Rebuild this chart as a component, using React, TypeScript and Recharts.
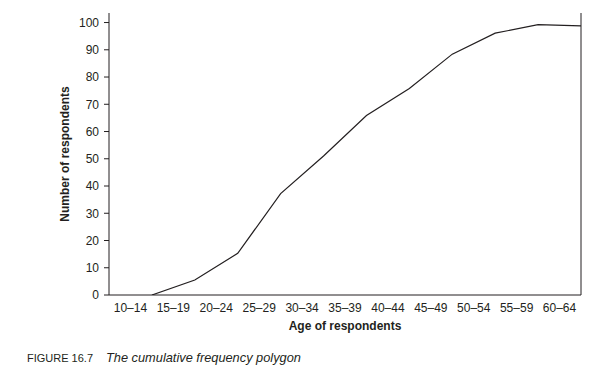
import { LineChart, Line, XAxis, YAxis, ReferenceLine, Label } from 'recharts'

// age groups (classes) and cumulative number of respondents at each upper class boundary
const ageGroups = ['10–14', '15–19', '20–24', '25–29', '30–34', '35–39', '40–44', '45–49', '50–54', '55–59', '60–64']
const cumulative = [0, 5.5, 15.3, 37.2, 51, 65.9, 75.8, 88.4, 96.1, 99.2, 98.8]
const yTicks = [0, 10, 20, 30, 40, 50, 60, 70, 80, 90, 100]

const edgeTicks = ageGroups.map((_, i) => i).concat(ageGroups.length)
const midTicks = ageGroups.map((_, i) => i + 0.5)

const data = cumulative.map((v, i) => ({ edge: i + 1, count: v }))

const ink = '#231f20'
const font = '"Liberation Sans", Arial, sans-serif'

export default function App() {
  return (
    <div style={{ position: 'absolute', left: 0, top: 0, width: 607, height: 390, background: '#fff', fontFamily: font }}>
      <LineChart width={607} height={390} data={data} margin={{ top: 13, right: 26, left: 0, bottom: 59 }}>
        <XAxis
          xAxisId="edges"
          dataKey="edge"
          type="number"
          domain={[0, ageGroups.length]}
          ticks={edgeTicks}
          tick={false}
          tickSize={4}
          height={4}
          stroke={ink}
          allowDataOverflow
        />
        <XAxis
          xAxisId="labels"
          dataKey="edge"
          type="number"
          domain={[0, ageGroups.length]}
          ticks={midTicks}
          tickFormatter={(v: number) => ageGroups[Math.floor(v)]}
          axisLine={false}
          tickLine={false}
          tickSize={0}
          tickMargin={4}
          height={32}
          interval={0}
          tick={{ fill: ink, fontSize: 12, fontFamily: font }}
          allowDataOverflow
        >
          <Label value="Age of respondents" position="insideBottom" offset={1} fill={ink} fontSize={12} fontWeight="bold" fontFamily={font} />
        </XAxis>
        <YAxis
          type="number"
          domain={[0, 103.5]}
          ticks={yTicks}
          width={109}
          tickSize={5}
          tickMargin={5}
          stroke={ink}
          tick={{ fill: ink, fontSize: 12, fontFamily: font }}
          allowDataOverflow
        >
          <Label value="Number of respondents" angle={-90} position="center" dx={10} fill={ink} fontSize={12} fontWeight="bold" fontFamily={font} />
        </YAxis>
        <ReferenceLine xAxisId="edges" x={ageGroups.length} stroke={ink} />
        <Line
          xAxisId="edges"
          dataKey="count"
          type="linear"
          stroke={ink}
          strokeWidth={1.2}
          dot={false}
          isAnimationActive={false}
        />
      </LineChart>
      <div style={{ position: 'absolute', left: 27, top: 351, fontSize: 11, color: ink, whiteSpace: 'nowrap', lineHeight: '14px' }}>
        FIGURE 16.7
      </div>
      <div style={{ position: 'absolute', left: 106, top: 351, fontSize: 12.8, fontStyle: 'italic', color: ink, whiteSpace: 'nowrap', lineHeight: '14px' }}>
        The cumulative frequency polygon
      </div>
    </div>
  )
}
